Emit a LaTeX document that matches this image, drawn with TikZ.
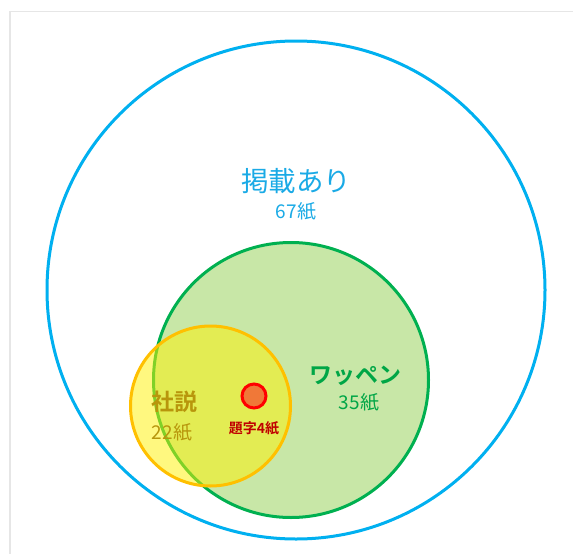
\documentclass[tikz,border=0pt]{standalone}
\usepackage{fontspec}
\newfontfamily\jp{Noto Sans CJK JP}[BoldFont={Noto Sans CJK JP Bold}]
\definecolor{cblue}{HTML}{00B0F0}
\definecolor{tblue}{HTML}{1AAAE6}
\definecolor{cgreen}{HTML}{00B050}
\definecolor{fgreen}{HTML}{92D050}
\definecolor{tgreen}{HTML}{00A646}
\definecolor{corange}{HTML}{FFC000}
\definecolor{tgold}{HTML}{B8960C}
\definecolor{cred}{HTML}{FF0000}
\definecolor{fred}{HTML}{F07838}
\definecolor{tred}{HTML}{C00000}
\definecolor{frame}{HTML}{E6E6E6}
\begin{document}
\begin{tikzpicture}[x=1pt,y=-1pt,
  setc/.style={circle,inner sep=0pt,line width=3pt},
  lbl/.style={inner sep=0pt,font=\jp}]
\useasboundingbox (0,0) rectangle (573,554);
\fill[white] (0,0) rectangle (573,554);
\coordinate (fa) at (10,554);
\coordinate (fb) at (10,11.5);
\coordinate (fc) at (573,11.5);
\draw[frame,line width=1.5pt] (fa) -- (fb) -- (fc);
\node[setc,draw=cblue,minimum size=498pt] (all) at (296,290) {};
\node[setc,fill=fgreen,fill opacity=0.5,minimum size=275pt] (wap) at (291,380) {};
\node[setc,draw=cgreen,minimum size=275pt] (wapline) at (291,380) {};
\node[setc,fill=yellow,fill opacity=0.5,minimum size=160pt] (sha) at (210.5,406) {};
\node[setc,draw=corange,minimum size=160pt] (shaline) at (210.5,406) {};
\node[setc,draw=cred,fill=fred,minimum size=24pt] (dai) at (254,396) {};
\node[lbl,text=tblue,font=\jp\fontsize{27.5}{30}\selectfont] (t1) at (296,181) {掲載あり};
\node[lbl,text=tblue,font=\jp\fontsize{19}{22}\selectfont] (t2) at (296,211) {67紙};
\node[lbl,text=tgreen,font=\jp\bfseries\fontsize{23}{26}\selectfont] (t3) at (355,376) {ワッペン};
\node[lbl,text=tgreen,font=\jp\fontsize{19}{22}\selectfont] (t4) at (359,402) {35紙};
\node[lbl,text=tgold,font=\jp\bfseries\fontsize{23}{26}\selectfont] (t5) at (174,402) {社説};
\node[lbl,text=tgold,font=\jp\fontsize{19}{22}\selectfont] (t6) at (172,432) {22紙};
\node[lbl,text=tred,font=\jp\bfseries\fontsize{14}{16}\selectfont] (t7) at (254,428) {題字4紙};
\end{tikzpicture}
\end{document}
